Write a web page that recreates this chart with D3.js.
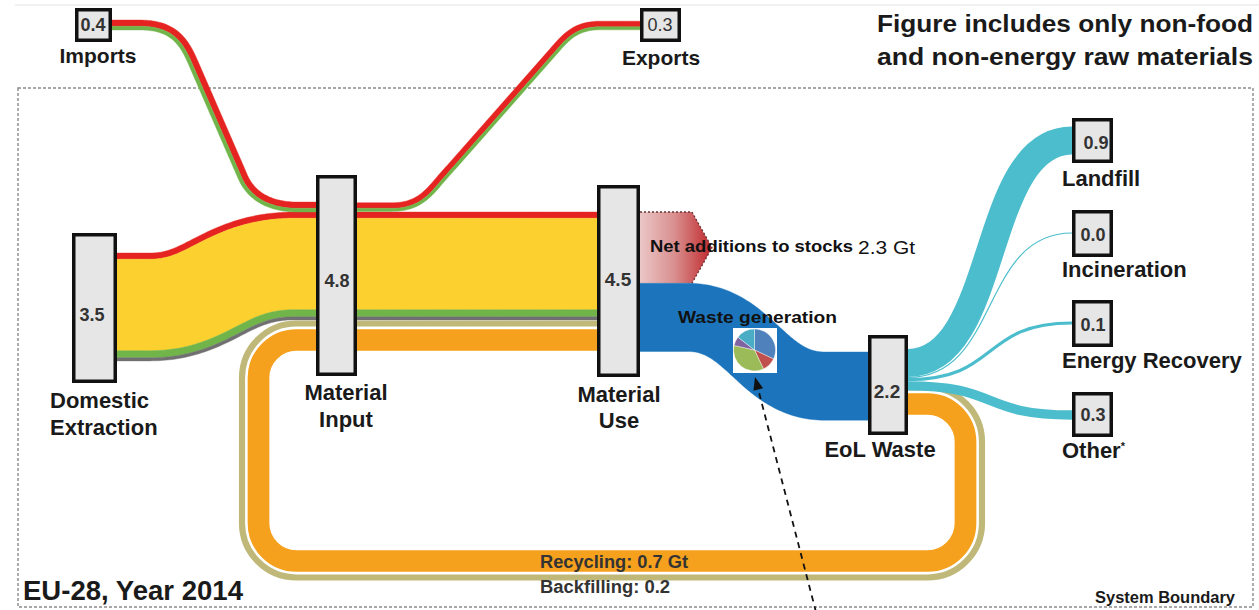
<!DOCTYPE html>
<html><head><meta charset="utf-8">
<script src="https://cdn.jsdelivr.net/npm/d3@7"></script>
<style>
body{margin:0;background:#fff;}
svg{display:block;font-family:"Liberation Sans",Arial,Helvetica,sans-serif;}
</style>
</head><body>
<svg id="c" width="1259" height="610"></svg>
<script>
// ---------------- DATA (Gt) ----------------
const nodeNames   = ["Imports","Exports","Domestic Extraction","Material Input","Material Use","EoL Waste","Landfill","Incineration","Energy Recovery","Other*"];
const nodeValues  = [0.4, 0.3, 3.5, 4.8, 4.5, 2.2, 0.9, 0.0, 0.1, 0.3];
const materialNames  = ["Metal ores","Non-metallic minerals","Biomass","Fossil energy materials"];
const domesticByMaterial = [0.20, 2.95, 0.23, 0.10];
const importsByMaterial  = [0.20, 0.00, 0.12, 0.00];
const exportsByMaterial  = [0.18, 0.00, 0.10, 0.00];
const stocksValue = 2.3;
const wasteGenerationValue = 2.2;
const recyclingValue = 0.7;
const backfillingValue = 0.2;
const eolTreatments = ["Landfill","Incineration","Energy Recovery","Other*"];
const eolValues     = [0.9, 0.0, 0.1, 0.3];
const pieCategories = ["Sector 1","Sector 2","Sector 3","Sector 4","Sector 5"];
const pieShares     = [32, 11, 35.5, 7, 14.5];

// ---------------- STYLE / LAYOUT ----------------
const materialColors = ["#e52421","#fcd02e","#70b44a","#707070"];
const C = {blue:"#1c75bc", teal:"#4bbdcc", orange:"#f5a11e", khaki:"#bfb878",
           box:"#e6e6e6", ink:"#1a1a1a"};
const pieColors = ["#4f81bd","#c0504d","#9bbb59","#8064a2","#4bacc6"];
// outer box edges [x0,y0,x1,y1] and value-label centre
const boxLayout = {
  "Imports":[75,8,112,42, 93,25],
  "Exports":[640,8,681,42, 660,25],
  "Domestic Extraction":[72,233,117,383, 92,315],
  "Material Input":[316,175,357,376, 337,281],
  "Material Use":[597,185,640,377, 618,279],
  "EoL Waste":[868,335,908,435, 887,391],
  "Landfill":[1072,118,1113,163, 1096,143],
  "Incineration":[1072,210,1113,257, 1093,235],
  "Energy Recovery":[1072,300,1113,347, 1093,325],
  "Other*":[1072,392,1113,437, 1093,415]
};
const labelLayout = {
  "Imports":{x:98,y:[63],a:"middle",s:21},
  "Exports":{x:661,y:[65],a:"middle",s:21},
  "Domestic Extraction":{x:50,y:[408,435],a:"start",s:22},
  "Material Input":{x:346,y:[400,427],a:"middle",s:22},
  "Material Use":{x:619,y:[402,428],a:"middle",s:22},
  "EoL Waste":{x:880,y:[457],a:"middle",s:22},
  "Landfill":{x:1062,y:[186],a:"start",s:22},
  "Incineration":{x:1062,y:[277],a:"start",s:22},
  "Energy Recovery":{x:1062,y:[368],a:"start",s:22},
  "Other*":{x:1062,y:[458],a:"start",s:22}
};
const wrapNames = ["Domestic Extraction","Material Input","Material Use"];

const svg = d3.select("#c");
const k = d3.scaleLinear().domain([0,1]).range([0,31]);   // Gt -> px band width

// ---------- helpers ----------
function ribbon(g, d, widths, colors){
  const tmp = g.append("path").attr("d", d);
  const node = tmp.node(), L = node.getTotalLength(), n = Math.ceil(L/2);
  const pts = d3.range(n+1).map(i => node.getPointAtLength(L*i/n));
  tmp.remove();
  const nrm = pts.map((p,i) => {
    const a = pts[Math.max(0,i-1)], b = pts[Math.min(n,i+1)];
    const dx=b.x-a.x, dy=b.y-a.y, l=Math.hypot(dx,dy)||1;
    return [-dy/l, dx/l];
  });
  const W = d3.sum(widths); let o = -W/2;
  widths.forEach((w,j) => {
    const o1=o, o2=o+w; o=o2;
    if (w<=0) return;
    const s1 = pts.map((p,i)=>[p.x+nrm[i][0]*o1, p.y+nrm[i][1]*o1]);
    const s2 = pts.map((p,i)=>[p.x+nrm[i][0]*o2, p.y+nrm[i][1]*o2]).reverse();
    g.append("path").attr("d","M"+s1.concat(s2).map(q=>q[0].toFixed(2)+","+q[1].toFixed(2)).join("L")+"Z")
      .attr("fill",colors[j]).attr("stroke",colors[j]).attr("stroke-width",0.4);
  });
}
function txt(t,x,y,o={}){
  const e = svg.append("text").attr("x",x).attr("y",y).text(t)
    .attr("font-size",o.s||20).attr("font-weight",o.w||"bold")
    .attr("fill",o.c||C.ink).attr("text-anchor",o.a||"start");
  if (o.len) e.attr("textLength",o.len).attr("lengthAdjust","spacingAndGlyphs");
  if (o.dy) e.attr("dy",o.dy);
  return e;
}

// ---------- frame ----------
svg.append("line").attr("x1",15).attr("x2",1259).attr("y1",5).attr("y2",5).attr("stroke","#ececec").attr("stroke-width",1.5);
svg.append("rect").attr("x",18).attr("y",88).attr("width",1235).attr("height",519)
  .attr("fill","none").attr("stroke","#8a8a8a").attr("stroke-width",1.4).attr("stroke-dasharray","3,2");

const gFlows = svg.append("g");

// ---------- recycling / backfilling loop ----------
function loopPath(d){
  const T=340-d, L=258.5-d, B=561+d, R=965.5+d, T2=404-d, r=38+d;
  return `M612,${T} H${L+r} A${r},${r} 0 0 0 ${L},${T+r} V${B-r} A${r},${r} 0 0 0 ${L+r},${B} H${R-r} A${r},${r} 0 0 0 ${R},${B-r} V${T2+r} A${r},${r} 0 0 0 ${R-r},${T2} H893`;
}
gFlows.append("path").attr("d",loopPath(16.5)).attr("fill","none").attr("stroke",C.khaki).attr("stroke-width",k(backfillingValue));
gFlows.append("path").attr("d",loopPath(0)).attr("fill","none").attr("stroke",C.orange).attr("stroke-width",k(recyclingValue));

// ---------- domestic extraction -> material input -> material use ----------
const domW = k(d3.sum(domesticByMaterial));
const domTopDE = 253, domTopMU = 212;
const cy0 = domTopDE + domW/2, cy1 = domTopMU + domW/2;
ribbon(gFlows, `M110,${cy0} L150,${cy0} C210,${cy0} 225,${cy1} 295,${cy1} L605,${cy1}`,
       domesticByMaterial.map(k), materialColors);

// ---------- imports ----------
const impW = k(d3.sum(importsByMaterial));
const impY = domTopMU - impW/2;
ribbon(gFlows, `M100,25 L140,25 C172,25 183,40 192,60 L242,175 C250,195 268,${impY} 298,${impY} L338,${impY}`,
       importsByMaterial.map(k), materialColors);
// ---------- exports ----------
const expW = k(d3.sum(exportsByMaterial));
ribbon(gFlows, `M335,${impY} L392,${impY} C418,${impY} 428,194 440,180 L553,52 C565,38 575,25.5 600,25.5 L650,25.5`,
       exportsByMaterial.map(k), materialColors);

// ---------- net additions to stocks ----------
const defs = svg.append("defs");
const gr = defs.append("linearGradient").attr("id","stk").attr("x1","0").attr("x2","1").attr("y1","0").attr("y2","0");
gr.append("stop").attr("offset","0%").attr("stop-color","#eccaca");
gr.append("stop").attr("offset","50%").attr("stop-color","#d98e8e");
gr.append("stop").attr("offset","100%").attr("stop-color","#c0282c");
const sTop = domTopMU, sBot = domTopMU + k(stocksValue), sMid = (sTop+sBot)/2;
gFlows.append("path").attr("d",`M638,${sTop} L692,${sTop} L712,${sMid} L692,${sBot} L638,${sBot} Z`).attr("fill","url(#stk)");
gFlows.append("path").attr("d",`M640,${sTop} L692,${sTop} L712,${sMid} L692,${sBot}`)
  .attr("fill","none").attr("stroke","#6a3434").attr("stroke-width",1.3).attr("stroke-dasharray","2,2");

// ---------- waste generation ----------
const wW = k(wasteGenerationValue);
const wy0 = sBot + wW/2, wy1 = 352 + wW/2;
ribbon(gFlows, `M625,${wy0} L688,${wy0} C750,${wy0} 762,${wy1} 825,${wy1} L882,${wy1}`, [wW], [C.blue]);

// ---------- EoL treatment fan ----------
const fanEnd = [140.5, 233, 323, 415];
let fy = 349;
eolValues.forEach((v,i) => {
  const w = Math.max(k(v), 1.2);
  const y0 = fy + w/2; fy += w;
  const y1 = fanEnd[i];
  gFlows.append("path").attr("d",`M893,${y0} L908,${y0} C1000,${y0} 980,${y1} 1072,${y1} L1082,${y1}`)
    .attr("fill","none").attr("stroke",C.teal).attr("stroke-width",w);
});

// ---------- pie ----------
svg.append("rect").attr("x",733).attr("y",328).attr("width",44).attr("height",45).attr("fill","#fff");
const pie = d3.pie().sort(null).value(d=>d)(pieShares);
const arc = d3.arc().innerRadius(0).outerRadius(21);
svg.append("g").attr("transform","translate(754.5,350)").selectAll("path").data(pie).join("path")
  .attr("d",arc).attr("fill",(d,i)=>pieColors[i]).attr("stroke","#fff").attr("stroke-width",0.4);

// ---------- boxes ----------
nodeNames.forEach((name,i) => {
  const b = boxLayout[name];
  svg.append("rect").attr("x",b[0]+1.75).attr("y",b[1]+1.75).attr("width",b[2]-b[0]-3.5).attr("height",b[3]-b[1]-3.5)
    .attr("fill",C.box).attr("stroke","#111").attr("stroke-width",3.5);
  const big = (name==="Material Use"||name==="EoL Waste");
  txt(d3.format(".1f")(nodeValues[i]), b[4], b[5], {s: big?19:18, a:"middle", dy:"0.35em", c:"#333",
      w: name==="Exports"?"normal":"bold"});
});

// ---------- node labels ----------
nodeNames.forEach(name => {
  const L = labelLayout[name];
  let lines = wrapNames.includes(name) ? name.split(" ") : [name];
  lines.forEach((ln,j) => {
    if (ln.endsWith("*")) {
      const t = txt(ln.slice(0,-1), L.x, L.y[j], {s:L.s, a:L.a});
      t.append("tspan").attr("font-size",11).attr("dy",-8).text("*");
    } else txt(ln, L.x, L.y[j], {s:L.s, a:L.a});
  });
});

// ---------- annotations ----------
txt("Figure includes only non-food", 877, 32, {s:24, len:376});
txt("and non-energy raw materials", 877, 65, {s:24, len:376});
txt("Net additions to stocks", 650, 252, {s:17, len:203, c:"#111"});
txt(d3.format(".1f")(stocksValue)+" Gt", 858, 254, {s:19, w:"normal", len:57, c:"#111"});
txt("Waste generation", 678, 323, {s:17, len:159, c:"#111"});
txt("Recycling: "+d3.format(".1f")(recyclingValue)+" Gt", 540, 568, {s:18, len:148, c:"#333"});
txt("Backfilling: "+d3.format(".1f")(backfillingValue), 540, 593, {s:18, len:130, c:"#333"});
txt("EU-28, Year 2014", 23, 600, {s:27, len:220});
txt("System Boundary", 1095, 603, {s:16, len:140});

// ---------- dashed arrow to pie ----------
const tip=[755,377], tail=[816,612];
const dx=tip[0]-tail[0], dy=tip[1]-tail[1], dl=Math.hypot(dx,dy), ux=dx/dl, uy=dy/dl;
const ah=13, aw=5;
const base=[tip[0]-ux*ah, tip[1]-uy*ah];
svg.append("line").attr("x1",tail[0]).attr("y1",tail[1]).attr("x2",base[0]).attr("y2",base[1])
  .attr("stroke","#111").attr("stroke-width",1.8).attr("stroke-dasharray","6,5");
svg.append("path").attr("d",`M${tip[0]},${tip[1]} L${base[0]-uy*aw},${base[1]+ux*aw} L${base[0]+uy*aw},${base[1]-ux*aw} Z`).attr("fill","#111");
</script>
</body></html>
